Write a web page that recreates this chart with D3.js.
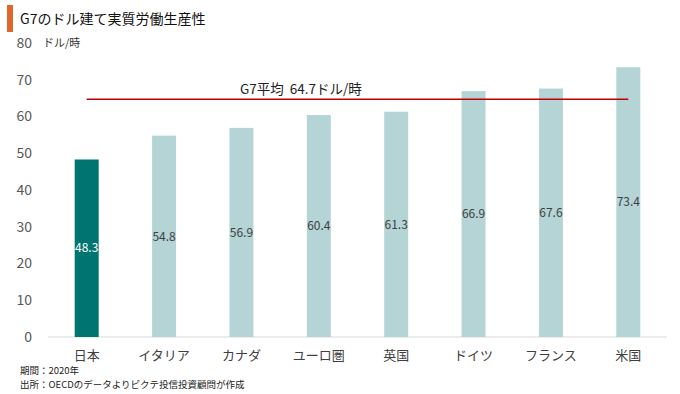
<!DOCTYPE html>
<html>
<head>
<meta charset="utf-8">
<script src="https://cdn.jsdelivr.net/npm/d3@7"></script>
<style>
  body { margin: 0; background: #fff; }
  text { font-family: "Noto Sans CJK JP", "Noto Sans", sans-serif; }
</style>
</head>
<body>
<svg id="chart" width="680" height="394"></svg>
<script>
var countries = ["日本", "イタリア", "カナダ", "ユーロ圏", "英国", "ドイツ", "フランス", "米国"];
var values = [48.3, 54.8, 56.9, 60.4, 61.3, 66.9, 67.6, 73.4];
var g7Average = 64.7;
var yTicks = [0, 10, 20, 30, 40, 50, 60, 70, 80];

var svg = d3.select("#chart");
var width = 680, height = 394;
var margin = {top: 43, right: 13, bottom: 57, left: 48};

var x = d3.scaleBand()
  .domain(countries)
  .range([margin.left, width - margin.right])
  .paddingInner(0.69)
  .paddingOuter(0.345);

var y = d3.scaleLinear()
  .domain([0, 80])
  .range([height - margin.bottom, margin.top]);

// title
svg.append("rect")
  .attr("x", 7).attr("y", 5)
  .attr("width", 6).attr("height", 27)
  .attr("fill", "#e0662a");

svg.append("text")
  .attr("x", 20).attr("y", 24)
  .attr("font-size", 14)
  .attr("fill", "#111")
  .text("G7のドル建て実質労働生産性");

// y axis labels
svg.selectAll("text.ytick")
  .data(yTicks)
  .enter().append("text")
  .attr("class", "ytick")
  .attr("x", 32)
  .attr("y", d => y(d))
  .attr("dy", "0.35em")
  .attr("text-anchor", "end")
  .attr("font-size", 14)
  .attr("fill", "#595959")
  .text(d => d);

svg.append("text")
  .attr("x", 43).attr("y", 47)
  .attr("font-size", 11)
  .attr("fill", "#333")
  .text("ドル/時");

// baseline
svg.append("line")
  .attr("x1", margin.left).attr("x2", width - margin.right)
  .attr("y1", y(0)).attr("y2", y(0))
  .attr("stroke", "#d9d9d9")
  .attr("stroke-width", 1);

// bars
svg.selectAll("rect.bar")
  .data(countries)
  .enter().append("rect")
  .attr("class", "bar")
  .attr("x", d => x(d))
  .attr("y", (d, i) => y(values[i]))
  .attr("width", x.bandwidth())
  .attr("height", (d, i) => y(0) - y(values[i]))
  .attr("fill", (d, i) => i === 0 ? "#007470" : "#b4d4d6");

// value labels
svg.selectAll("text.val")
  .data(countries)
  .enter().append("text")
  .attr("class", "val")
  .attr("x", d => x(d) + x.bandwidth() / 2)
  .attr("y", (d, i) => (y(values[i]) + y(0)) / 2)
  .attr("dy", "0.35em")
  .attr("text-anchor", "middle")
  .attr("font-size", 12)
  .attr("fill", (d, i) => i === 0 ? "#fff" : "#404040")
  .text((d, i) => values[i].toFixed(1));

// category labels
svg.selectAll("text.cat")
  .data(countries)
  .enter().append("text")
  .attr("class", "cat")
  .attr("x", d => x(d) + x.bandwidth() / 2)
  .attr("y", 360)
  .attr("text-anchor", "middle")
  .attr("font-size", 13)
  .attr("fill", "#404040")
  .text(d => d);

// G7 average line
var xFirst = x(countries[0]) + x.bandwidth() / 2;
var xLast = x(countries[countries.length - 1]) + x.bandwidth() / 2;
svg.append("line")
  .attr("x1", xFirst).attr("x2", xLast)
  .attr("y1", y(g7Average)).attr("y2", y(g7Average))
  .attr("stroke", "#c00000")
  .attr("stroke-width", 1.5);

svg.append("text")
  .attr("x", 240).attr("y", y(g7Average) - 5)
  .attr("font-size", 13.5)
  .attr("fill", "#222")
  .attr("xml:space", "preserve")
  .text("G7平均  " + g7Average + "ドル/時");

// notes
svg.append("text")
  .attr("x", 20).attr("y", 374)
  .attr("font-size", 9.5)
  .attr("fill", "#222")
  .text("期間：2020年");

svg.append("text")
  .attr("x", 20).attr("y", 388)
  .attr("font-size", 9.5)
  .attr("fill", "#222")
  .text("出所：OECDのデータよりピクテ投信投資顧問が作成");
</script>
</body>
</html>
